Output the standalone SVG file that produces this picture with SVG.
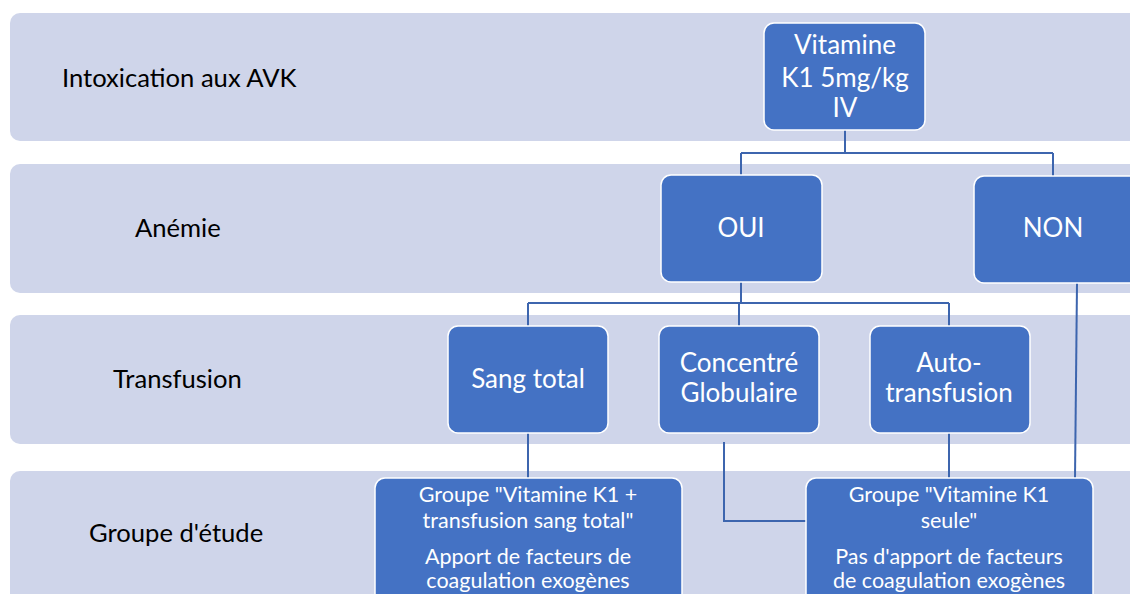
<svg xmlns="http://www.w3.org/2000/svg" width="1130" height="594" viewBox="0 0 1130 594">
<style>
.band{fill:#CFD5EA}
.node{fill:#4472C4;stroke:#ffffff;stroke-width:1.5}
.lbl{font-family:Lato,"Liberation Sans",sans-serif;font-size:25.6px;fill:#000}
.t{font-family:Lato,"Liberation Sans",sans-serif;font-size:26px;fill:#fff;text-anchor:middle}
.s{font-family:Lato,"Liberation Sans",sans-serif;font-size:21.5px;fill:#fff;text-anchor:middle}
.c{fill:none;stroke:#3D65AE;stroke-width:2}
</style>
<rect width="1130" height="594" fill="#fff"/>
<g id="bands">
<rect class="band" x="10" y="13" width="1140" height="128" rx="10"/>
<rect class="band" x="10" y="164" width="1140" height="129" rx="10"/>
<rect class="band" x="10" y="315" width="1140" height="129" rx="10"/>
<rect class="band" x="10" y="471" width="1140" height="150" rx="10"/>
</g>
<g id="row-labels">
<text class="lbl" x="62" y="87">Intoxication aux AVK</text>
<text class="lbl" x="135" y="237">Anémie</text>
<text class="lbl" x="113" y="388">Transfusion</text>
<text class="lbl" x="89" y="542">Groupe d'étude</text>
</g>
<g id="connectors">
<path class="c" d="M845 130V153M741 153H1053M741 153V175M1053 153V176"/>
<path class="c" d="M741 282V303M528 303H949M528 303V326M739 303V326M949 303V326"/>
<path class="c" d="M528 433V478"/>
<path class="c" d="M724 442V521H806"/>
<path class="c" d="M949 433V478"/>
<path class="c" d="M1077 283L1075 478"/>
</g>
<g id="n-vitamine">
<rect class="node" x="764" y="23" width="161" height="107" rx="10"/>
<text class="t" x="845" y="54">Vitamine</text>
<text class="t" x="845" y="87">K1 5mg/kg</text>
<text class="t" x="845" y="117">IV</text>
</g>
<g id="n-oui">
<rect class="node" x="661" y="175" width="161" height="107" rx="10"/>
<text class="t" x="741" y="237">OUI</text>
</g>
<g id="n-non">
<rect class="node" x="974" y="176" width="170" height="107" rx="10"/>
<text class="t" x="1053" y="237">NON</text>
</g>
<g id="n-sang">
<rect class="node" x="448" y="326" width="160" height="107" rx="10"/>
<text class="t" x="528" y="388">Sang total</text>
</g>
<g id="n-cg">
<rect class="node" x="659" y="326" width="160" height="107" rx="10"/>
<text class="t" x="739" y="372">Concentré</text>
<text class="t" x="739" y="402">Globulaire</text>
</g>
<g id="n-auto">
<rect class="node" x="870" y="326" width="160" height="107" rx="10"/>
<text class="t" x="949" y="372">Auto-</text>
<text class="t" x="949" y="402">transfusion</text>
</g>
<g id="n-g1">
<rect class="node" x="375" y="478" width="307" height="140" rx="10"/>
<text class="s" x="528" y="502">Groupe "Vitamine K1 +</text>
<text class="s" x="528" y="528">transfusion sang total"</text>
<text class="s" x="528" y="564">Apport de facteurs de</text>
<text class="s" x="528" y="588">coagulation exogènes</text>
</g>
<g id="n-g2">
<rect class="node" x="806" y="478" width="287" height="140" rx="10"/>
<text class="s" x="949" y="502">Groupe "Vitamine K1</text>
<text class="s" x="949" y="528">seule"</text>
<text class="s" x="949" y="564">Pas d'apport de facteurs</text>
<text class="s" x="949" y="588">de coagulation exogènes</text>
</g>
</svg>
